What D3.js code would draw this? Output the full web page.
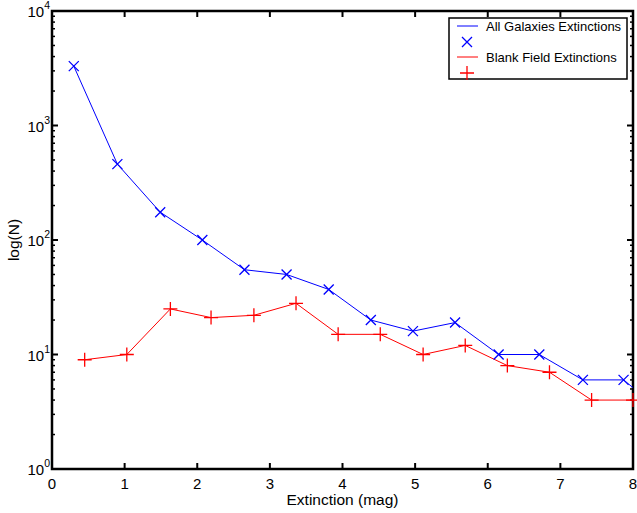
<!DOCTYPE html>
<html>
<head>
<meta charset="utf-8">
<script src="https://cdn.jsdelivr.net/npm/d3@7"></script>
<style>
  body { margin: 0; background: #fff; }
  text { font-family: "Liberation Sans", Arial, sans-serif; fill: #000; }
</style>
</head>
<body>
<div id="chart"></div>
<script>
const allX = [0.30, 0.90, 1.49, 2.07, 2.65, 3.23, 3.81, 4.39, 4.97, 5.55, 6.15, 6.71, 7.31, 7.87, 8.45];
const allN = [3300, 460, 175, 100, 55, 50, 37, 20, 16, 19, 10, 10, 6, 6, 3];
const blankX = [0.45, 1.03, 1.63, 2.19, 2.78, 3.36, 3.94, 4.52, 5.11, 5.69, 6.27, 6.85, 7.43, 8.00];
const blankN = [9, 10, 25, 21, 22, 28, 15, 15, 10, 12, 8, 7, 4, 4];
const xTicks = [0, 1, 2, 3, 4, 5, 6, 7, 8];
const yDecades = [0, 1, 2, 3, 4];
const legendLabels = ["All Galaxies Extinctions", "Blank Field Extinctions"];

const width = 637, height = 513;
const pLeft = 52, pRight = 633, pTop = 11, pBottom = 469;

const svg = d3.select("#chart").append("svg")
    .attr("width", width).attr("height", height);

const x = d3.scaleLinear().domain([0, 8]).range([pLeft, pRight]);
const y = d3.scaleLog().domain([1, 1e4]).range([pBottom, pTop]);

svg.append("clipPath").attr("id", "plotclip")
  .append("rect").attr("x", pLeft).attr("y", pTop)
  .attr("width", pRight - pLeft).attr("height", pBottom - pTop);

// ticks, all pointing inward
const g = svg.append("g");
xTicks.forEach(t => {
    g.append("line").attr("x1", x(t)).attr("x2", x(t)).attr("y1", pBottom).attr("y2", pBottom - 6)
      .attr("stroke", "#000").attr("stroke-width", 2);
    g.append("line").attr("x1", x(t)).attr("x2", x(t)).attr("y1", pTop).attr("y2", pTop + 6)
      .attr("stroke", "#000").attr("stroke-width", 2);
    g.append("text").attr("x", x(t)).attr("y", pBottom + 20)
      .attr("text-anchor", "middle").attr("font-size", 15).text(t);
});

yDecades.forEach(p => {
    const v = Math.pow(10, p);
    g.append("line").attr("x1", pLeft).attr("x2", pLeft + 6).attr("y1", y(v)).attr("y2", y(v))
      .attr("stroke", "#000").attr("stroke-width", 2);
    g.append("line").attr("x1", pRight).attr("x2", pRight - 6).attr("y1", y(v)).attr("y2", y(v))
      .attr("stroke", "#000").attr("stroke-width", 2);
    const lab = g.append("text").attr("x", pLeft - 2).attr("y", y(v) + 6)
      .attr("text-anchor", "end").attr("font-size", 15);
    lab.append("tspan").text("10");
    lab.append("tspan").attr("font-size", 10.5).attr("dy", -8).text(p);
    if (p < 4) {
        for (let m = 2; m <= 9; m++) {
            const mv = m * v;
            g.append("line").attr("x1", pLeft).attr("x2", pLeft + 3).attr("y1", y(mv)).attr("y2", y(mv))
              .attr("stroke", "#000").attr("stroke-width", 1.5);
            g.append("line").attr("x1", pRight).attr("x2", pRight - 3).attr("y1", y(mv)).attr("y2", y(mv))
              .attr("stroke", "#000").attr("stroke-width", 1.5);
        }
    }
});

// frame
svg.append("rect").attr("x", pLeft).attr("y", pTop)
  .attr("width", pRight - pLeft).attr("height", pBottom - pTop)
  .attr("fill", "none").attr("stroke", "#000").attr("stroke-width", 2.5);

// axis labels
svg.append("text").attr("x", (pLeft + pRight) / 2).attr("y", 505)
  .attr("text-anchor", "middle").attr("font-size", 15.5).text("Extinction (mag)");
svg.append("text").attr("transform", "translate(19," + ((pTop + pBottom) / 2) + ") rotate(-90)")
  .attr("text-anchor", "middle").attr("font-size", 15.5).text("log(N)");

// series
const line = d3.line().x(d => x(d[0])).y(d => y(d[1]));
const allData = allX.map((v, i) => [v, allN[i]]);
const blankData = blankX.map((v, i) => [v, blankN[i]]);

const plot = svg.append("g").attr("clip-path", "url(#plotclip)");
plot.append("path").datum(allData).attr("d", line)
  .attr("fill", "none").attr("stroke", "#0000ff").attr("stroke-width", 1);
plot.append("path").datum(blankData).attr("d", line)
  .attr("fill", "none").attr("stroke", "#ff0000").attr("stroke-width", 1);

const crossMark = "M-5,-5L5,5M-5,5L5,-5";
const plusMark = "M-7,0H7M0,-7V7";

svg.selectAll(".xm").data(allData.filter(d => d[0] <= 8)).enter()
  .append("path").attr("class", "xm")
  .attr("d", crossMark)
  .attr("transform", d => `translate(${x(d[0])},${y(d[1])})`)
  .attr("stroke", "#0000ff").attr("stroke-width", 1.3).attr("fill", "none");

svg.selectAll(".pm").data(blankData.filter(d => d[0] <= 8)).enter()
  .append("path").attr("class", "pm")
  .attr("d", plusMark)
  .attr("transform", d => `translate(${x(d[0])},${y(d[1])})`)
  .attr("stroke", "#ff0000").attr("stroke-width", 1.3).attr("fill", "none");

// legend
const lg = svg.append("g");
lg.append("rect").attr("x", 449).attr("y", 18).attr("width", 178).attr("height", 61)
  .attr("fill", "#fff").attr("stroke", "#000").attr("stroke-width", 1.5);
const colors = ["#0000ff", "#ff0000"];
legendLabels.forEach((lab, i) => {
    const ly = 26 + i * 31;
    lg.append("line").attr("x1", 457).attr("x2", 478).attr("y1", ly).attr("y2", ly)
      .attr("stroke", colors[i]).attr("stroke-width", 1);
    lg.append("text").attr("x", 486).attr("y", ly + 4.5).attr("font-size", 13).text(lab);
    const my = ly + 16;
    lg.append("path")
      .attr("d", i === 0 ? crossMark : plusMark)
      .attr("transform", `translate(467,${my})`)
      .attr("stroke", colors[i]).attr("stroke-width", 1.3).attr("fill", "none");
});
</script>
</body>
</html>
